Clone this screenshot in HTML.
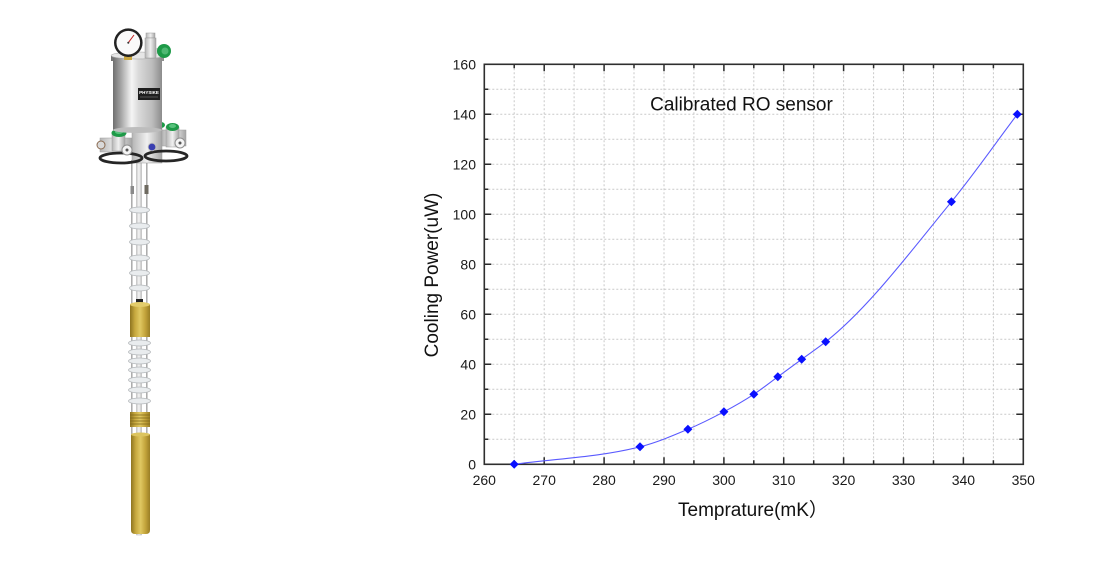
<!DOCTYPE html>
<html>
<head>
<meta charset="utf-8">
<style>
html,body{margin:0;padding:0;background:#fff;}
svg{display:block;}
text{font-family:"Liberation Sans","Noto Sans CJK SC",sans-serif;}
</style>
</head>
<body>
<svg width="1101" height="563" viewBox="0 0 1101 563" xmlns="http://www.w3.org/2000/svg">
<defs>
  <linearGradient id="silver" x1="0" y1="0" x2="1" y2="0">
    <stop offset="0" stop-color="#6f6f6f"/>
    <stop offset="0.15" stop-color="#a0a0a0"/>
    <stop offset="0.38" stop-color="#f5f5f5"/>
    <stop offset="0.52" stop-color="#dadada"/>
    <stop offset="0.8" stop-color="#bcbcbc"/>
    <stop offset="1" stop-color="#8c8c8c"/>
  </linearGradient>
  <linearGradient id="silver2" x1="0" y1="0" x2="1" y2="0">
    <stop offset="0" stop-color="#b5b5b5"/>
    <stop offset="0.5" stop-color="#f0f0f0"/>
    <stop offset="1" stop-color="#a5a5a5"/>
  </linearGradient>
  <linearGradient id="brass" x1="0" y1="0" x2="1" y2="0">
    <stop offset="0" stop-color="#8e7420"/>
    <stop offset="0.25" stop-color="#c7a93f"/>
    <stop offset="0.5" stop-color="#e0c862"/>
    <stop offset="0.75" stop-color="#c4a53c"/>
    <stop offset="1" stop-color="#9a7e25"/>
  </linearGradient>
  <linearGradient id="tube" x1="0" y1="0" x2="1" y2="0">
    <stop offset="0" stop-color="#c8c8c8"/>
    <stop offset="0.5" stop-color="#f7f7f7"/>
    <stop offset="1" stop-color="#bdbdbd"/>
  </linearGradient>
</defs>

<!-- ===== Device illustration ===== -->
<g>
  <rect x="136.5" y="160" width="5" height="375" fill="url(#tube)" stroke="#b0b0b0" stroke-width="0.5"/>
  <line x1="131.8" y1="160" x2="131.8" y2="434" stroke="#a9a9a9" stroke-width="1.5"/>
  <line x1="146.8" y1="160" x2="146.8" y2="434" stroke="#a9a9a9" stroke-width="1.5"/>
  <rect x="130.5" y="186" width="3.5" height="8" fill="#8a8a8a"/>
  <rect x="144.5" y="185" width="4" height="9" fill="#6e6a60"/>
  <g fill="#e9ecee" stroke="#b5b9bc" stroke-width="0.8">
    <ellipse cx="139.5" cy="210" rx="10" ry="3"/>
    <ellipse cx="139.5" cy="226" rx="10" ry="3"/>
    <ellipse cx="139.5" cy="242" rx="10" ry="3"/>
    <ellipse cx="139.5" cy="258" rx="10" ry="3"/>
    <ellipse cx="139.5" cy="273" rx="10" ry="3"/>
    <ellipse cx="139.5" cy="288" rx="10" ry="3"/>
  </g>
  <rect x="136" y="299" width="7" height="5" fill="#222"/>
  <rect x="130" y="304" width="20" height="33" fill="url(#brass)"/>
  <ellipse cx="140" cy="304.5" rx="10" ry="2.5" fill="#e3cc6a"/>
  <g fill="#e9ecee" stroke="#b5b9bc" stroke-width="0.8">
    <ellipse cx="139.5" cy="343" rx="11" ry="3"/>
    <ellipse cx="139.5" cy="352" rx="11" ry="3"/>
    <ellipse cx="139.5" cy="361" rx="11" ry="3"/>
    <ellipse cx="139.5" cy="370" rx="11" ry="3"/>
    <ellipse cx="139.5" cy="380" rx="11" ry="3"/>
    <ellipse cx="139.5" cy="390" rx="11" ry="3"/>
    <ellipse cx="139.5" cy="401" rx="11" ry="3"/>
  </g>
  <rect x="130" y="412" width="20" height="15" fill="url(#brass)"/>
  <g stroke="#7d6418" stroke-width="0.8">
    <line x1="130" y1="415" x2="150" y2="415"/>
    <line x1="130" y1="418" x2="150" y2="418"/>
    <line x1="130" y1="421" x2="150" y2="421"/>
    <line x1="130" y1="424" x2="150" y2="424"/>
  </g>
  <path d="M131,434 H150 V530 Q150,534 146,534 H135 Q131,534 131,530 Z" fill="url(#brass)"/>
  <ellipse cx="140.5" cy="434.5" rx="9.5" ry="2" fill="#dcc45e"/>

  <rect x="132" y="128" width="30" height="35" fill="url(#silver2)" stroke="#9a9a9a" stroke-width="0.5"/>
  <rect x="100" y="138" width="32" height="14" fill="url(#silver2)" stroke="#9c9c9c" stroke-width="0.5"/>
  <rect x="112" y="133" width="13" height="18" fill="url(#silver2)" stroke="#9c9c9c" stroke-width="0.5"/>
  <ellipse cx="119" cy="133" rx="7.5" ry="4" fill="#1e9a48"/>
  <ellipse cx="119" cy="132" rx="4" ry="2" fill="#58c27c"/>
  <circle cx="101" cy="145" r="4" fill="#d9d9d9" stroke="#8a6a50" stroke-width="1"/>
  <rect x="162" y="130" width="24" height="16" fill="url(#silver2)" stroke="#9c9c9c" stroke-width="0.5"/>
  <rect x="166" y="127" width="13" height="20" fill="url(#silver2)" stroke="#9c9c9c" stroke-width="0.5"/>
  <ellipse cx="172.5" cy="127" rx="6.5" ry="4" fill="#1e9a48"/>
  <ellipse cx="172.5" cy="126" rx="3.5" ry="2" fill="#58c27c"/>
  <ellipse cx="161" cy="125" rx="4" ry="3" fill="#1e9a48"/>
  <ellipse cx="121" cy="158" rx="21" ry="5" fill="none" stroke="#262626" stroke-width="2.8"/>
  <ellipse cx="166" cy="156" rx="21" ry="5" fill="none" stroke="#262626" stroke-width="2.8"/>
  <circle cx="127" cy="150" r="5" fill="#f4f4f4" stroke="#8f8f8f" stroke-width="1"/>
  <circle cx="127" cy="150" r="1.5" fill="#555"/>
  <circle cx="180" cy="143" r="5" fill="#f4f4f4" stroke="#8f8f8f" stroke-width="1"/>
  <circle cx="180" cy="143" r="1.5" fill="#555"/>
  <circle cx="152" cy="147" r="3.8" fill="#3a3fb0" stroke="#bbb" stroke-width="0.8"/>

  <rect x="111" y="55" width="53" height="6" fill="url(#silver)"/>
  <rect x="113" y="58" width="49" height="72" fill="url(#silver)"/>
  <ellipse cx="137.5" cy="55.5" rx="26.5" ry="3.5" fill="#e6e6e6" stroke="#a0a0a0" stroke-width="0.5"/>
  <ellipse cx="137.5" cy="130" rx="24.5" ry="3" fill="#bdbdbd"/>
  <rect x="138" y="88" width="22" height="12" fill="#1e1e1e"/>
  <text x="149" y="94" font-size="4.5" fill="#fff" text-anchor="middle" font-weight="bold">PHYSIKE</text>
  <line x1="140" y1="97" x2="158" y2="97" stroke="#888" stroke-width="0.5"/>

  <rect x="124" y="54" width="8" height="6" fill="#c9a640"/>
  <circle cx="128.3" cy="42.7" r="14.3" fill="#222"/>
  <circle cx="128.3" cy="42.7" r="11.8" fill="#fafafa"/>
  <line x1="128.3" y1="42.7" x2="134" y2="35" stroke="#c02020" stroke-width="1"/>
  <circle cx="128.3" cy="42.7" r="1" fill="#333"/>

  <rect x="146" y="33" width="9" height="5" fill="url(#silver2)" stroke="#999" stroke-width="0.5"/>
  <rect x="145" y="38" width="11" height="20" fill="url(#silver2)" stroke="#999" stroke-width="0.5"/>
  <rect x="156" y="48" width="4" height="6" fill="#c8c8c8"/>
  <circle cx="164" cy="51" r="7" fill="#1e9a48"/>
  <circle cx="165" cy="51" r="3.5" fill="#4fb873"/>
</g>

<!-- ===== Chart ===== -->
<g stroke="#c9c9c9" stroke-width="1" stroke-dasharray="2,2">
  <line x1="514.2" y1="64.3" x2="514.2" y2="464.3"/>
  <line x1="544.2" y1="64.3" x2="544.2" y2="464.3"/>
  <line x1="574.1" y1="64.3" x2="574.1" y2="464.3"/>
  <line x1="604.1" y1="64.3" x2="604.1" y2="464.3"/>
  <line x1="634.0" y1="64.3" x2="634.0" y2="464.3"/>
  <line x1="664.0" y1="64.3" x2="664.0" y2="464.3"/>
  <line x1="693.9" y1="64.3" x2="693.9" y2="464.3"/>
  <line x1="723.9" y1="64.3" x2="723.9" y2="464.3"/>
  <line x1="753.8" y1="64.3" x2="753.8" y2="464.3"/>
  <line x1="783.7" y1="64.3" x2="783.7" y2="464.3"/>
  <line x1="813.7" y1="64.3" x2="813.7" y2="464.3"/>
  <line x1="843.6" y1="64.3" x2="843.6" y2="464.3"/>
  <line x1="873.6" y1="64.3" x2="873.6" y2="464.3"/>
  <line x1="903.5" y1="64.3" x2="903.5" y2="464.3"/>
  <line x1="933.5" y1="64.3" x2="933.5" y2="464.3"/>
  <line x1="963.4" y1="64.3" x2="963.4" y2="464.3"/>
  <line x1="993.4" y1="64.3" x2="993.4" y2="464.3"/>

  <line x1="484.3" y1="439.3" x2="1023.3" y2="439.3"/>
  <line x1="484.3" y1="414.3" x2="1023.3" y2="414.3"/>
  <line x1="484.3" y1="389.3" x2="1023.3" y2="389.3"/>
  <line x1="484.3" y1="364.3" x2="1023.3" y2="364.3"/>
  <line x1="484.3" y1="339.3" x2="1023.3" y2="339.3"/>
  <line x1="484.3" y1="314.3" x2="1023.3" y2="314.3"/>
  <line x1="484.3" y1="289.3" x2="1023.3" y2="289.3"/>
  <line x1="484.3" y1="264.3" x2="1023.3" y2="264.3"/>
  <line x1="484.3" y1="239.3" x2="1023.3" y2="239.3"/>
  <line x1="484.3" y1="214.3" x2="1023.3" y2="214.3"/>
  <line x1="484.3" y1="189.3" x2="1023.3" y2="189.3"/>
  <line x1="484.3" y1="164.3" x2="1023.3" y2="164.3"/>
  <line x1="484.3" y1="139.3" x2="1023.3" y2="139.3"/>
  <line x1="484.3" y1="114.3" x2="1023.3" y2="114.3"/>
  <line x1="484.3" y1="89.3" x2="1023.3" y2="89.3"/>
</g>

<g stroke="#2a2a2a" stroke-width="1.5">
  <path d="M514.2,464.3v-4 M544.2,464.3v-7 M574.1,464.3v-4 M604.1,464.3v-7 M634.0,464.3v-4 M664.0,464.3v-7 M693.9,464.3v-4 M723.9,464.3v-7 M753.8,464.3v-4 M783.7,464.3v-7 M813.7,464.3v-4 M843.6,464.3v-7 M873.6,464.3v-4 M903.5,464.3v-7 M933.5,464.3v-4 M963.4,464.3v-7 M993.4,464.3v-4"/>
  <path d="M514.2,64.3v4 M544.2,64.3v7 M574.1,64.3v4 M604.1,64.3v7 M634.0,64.3v4 M664.0,64.3v7 M693.9,64.3v4 M723.9,64.3v7 M753.8,64.3v4 M783.7,64.3v7 M813.7,64.3v4 M843.6,64.3v7 M873.6,64.3v4 M903.5,64.3v7 M933.5,64.3v4 M963.4,64.3v7 M993.4,64.3v4"/>
  <path d="M484.3,439.3h4 M484.3,414.3h7 M484.3,389.3h4 M484.3,364.3h7 M484.3,339.3h4 M484.3,314.3h7 M484.3,289.3h4 M484.3,264.3h7 M484.3,239.3h4 M484.3,214.3h7 M484.3,189.3h4 M484.3,164.3h7 M484.3,139.3h4 M484.3,114.3h7 M484.3,89.3h4"/>
  <path d="M1023.3,439.3h-4 M1023.3,414.3h-7 M1023.3,389.3h-4 M1023.3,364.3h-7 M1023.3,339.3h-4 M1023.3,314.3h-7 M1023.3,289.3h-4 M1023.3,264.3h-7 M1023.3,239.3h-4 M1023.3,214.3h-7 M1023.3,189.3h-4 M1023.3,164.3h-7 M1023.3,139.3h-4 M1023.3,114.3h-7 M1023.3,89.3h-4"/>
</g>

<rect x="484.3" y="64.3" width="539" height="400" fill="none" stroke="#2e2e2e" stroke-width="1.6"/>

<path d="M514.2,464.3 C556.1,458.5 598.1,457.4 640.0,446.8 C656.0,442.8 671.9,436.1 687.9,429.3 C699.9,424.2 711.9,418.2 723.9,411.8 C733.9,406.5 743.8,400.9 753.8,394.3 C761.8,389.0 769.8,382.7 777.8,376.8 C785.8,371.0 793.7,365.1 801.7,359.3 C809.7,353.4 817.7,348.0 825.7,341.8 C867.6,309.0 909.5,252.9 951.4,201.8 C973.4,175.0 995.3,143.5 1017.3,114.3" fill="none" stroke="#5a5aff" stroke-width="1.1"/>

<g fill="#0a10ff">
  <path d="M514.2,459.8 l4.5,4.5 l-4.5,4.5 l-4.5,-4.5 z"/>
  <path d="M640.0,442.3 l4.5,4.5 l-4.5,4.5 l-4.5,-4.5 z"/>
  <path d="M687.9,424.8 l4.5,4.5 l-4.5,4.5 l-4.5,-4.5 z"/>
  <path d="M723.9,407.3 l4.5,4.5 l-4.5,4.5 l-4.5,-4.5 z"/>
  <path d="M753.8,389.8 l4.5,4.5 l-4.5,4.5 l-4.5,-4.5 z"/>
  <path d="M777.8,372.3 l4.5,4.5 l-4.5,4.5 l-4.5,-4.5 z"/>
  <path d="M801.7,354.8 l4.5,4.5 l-4.5,4.5 l-4.5,-4.5 z"/>
  <path d="M825.7,337.3 l4.5,4.5 l-4.5,4.5 l-4.5,-4.5 z"/>
  <path d="M951.4,197.3 l4.5,4.5 l-4.5,4.5 l-4.5,-4.5 z"/>
  <path d="M1017.3,109.8 l4.5,4.5 l-4.5,4.5 l-4.5,-4.5 z"/>
</g>

<g font-size="14" fill="#1a1a1a" text-anchor="middle">
  <text x="484.3" y="485">260</text>
  <text x="544.2" y="485">270</text>
  <text x="604.1" y="485">280</text>
  <text x="664.0" y="485">290</text>
  <text x="723.9" y="485">300</text>
  <text x="783.7" y="485">310</text>
  <text x="843.6" y="485">320</text>
  <text x="903.5" y="485">330</text>
  <text x="963.4" y="485">340</text>
  <text x="1023.3" y="485">350</text>
</g>
<g font-size="14" fill="#1a1a1a" text-anchor="end">
  <text x="476" y="469.3">0</text>
  <text x="476" y="419.3">20</text>
  <text x="476" y="369.3">40</text>
  <text x="476" y="319.3">60</text>
  <text x="476" y="269.3">80</text>
  <text x="476" y="219.3">100</text>
  <text x="476" y="169.3">120</text>
  <text x="476" y="119.3">140</text>
  <text x="476" y="69.3">160</text>
</g>

<text x="741.5" y="110.5" font-size="19" fill="#111" text-anchor="middle">Calibrated RO sensor</text>
<text x="678" y="516" font-size="19" fill="#111">Temprature(mK）</text>
<text transform="translate(438,275) rotate(-90)" x="0" y="0" font-size="19" fill="#111" text-anchor="middle">Cooling Power(uW)</text>
</svg>
</body>
</html>
